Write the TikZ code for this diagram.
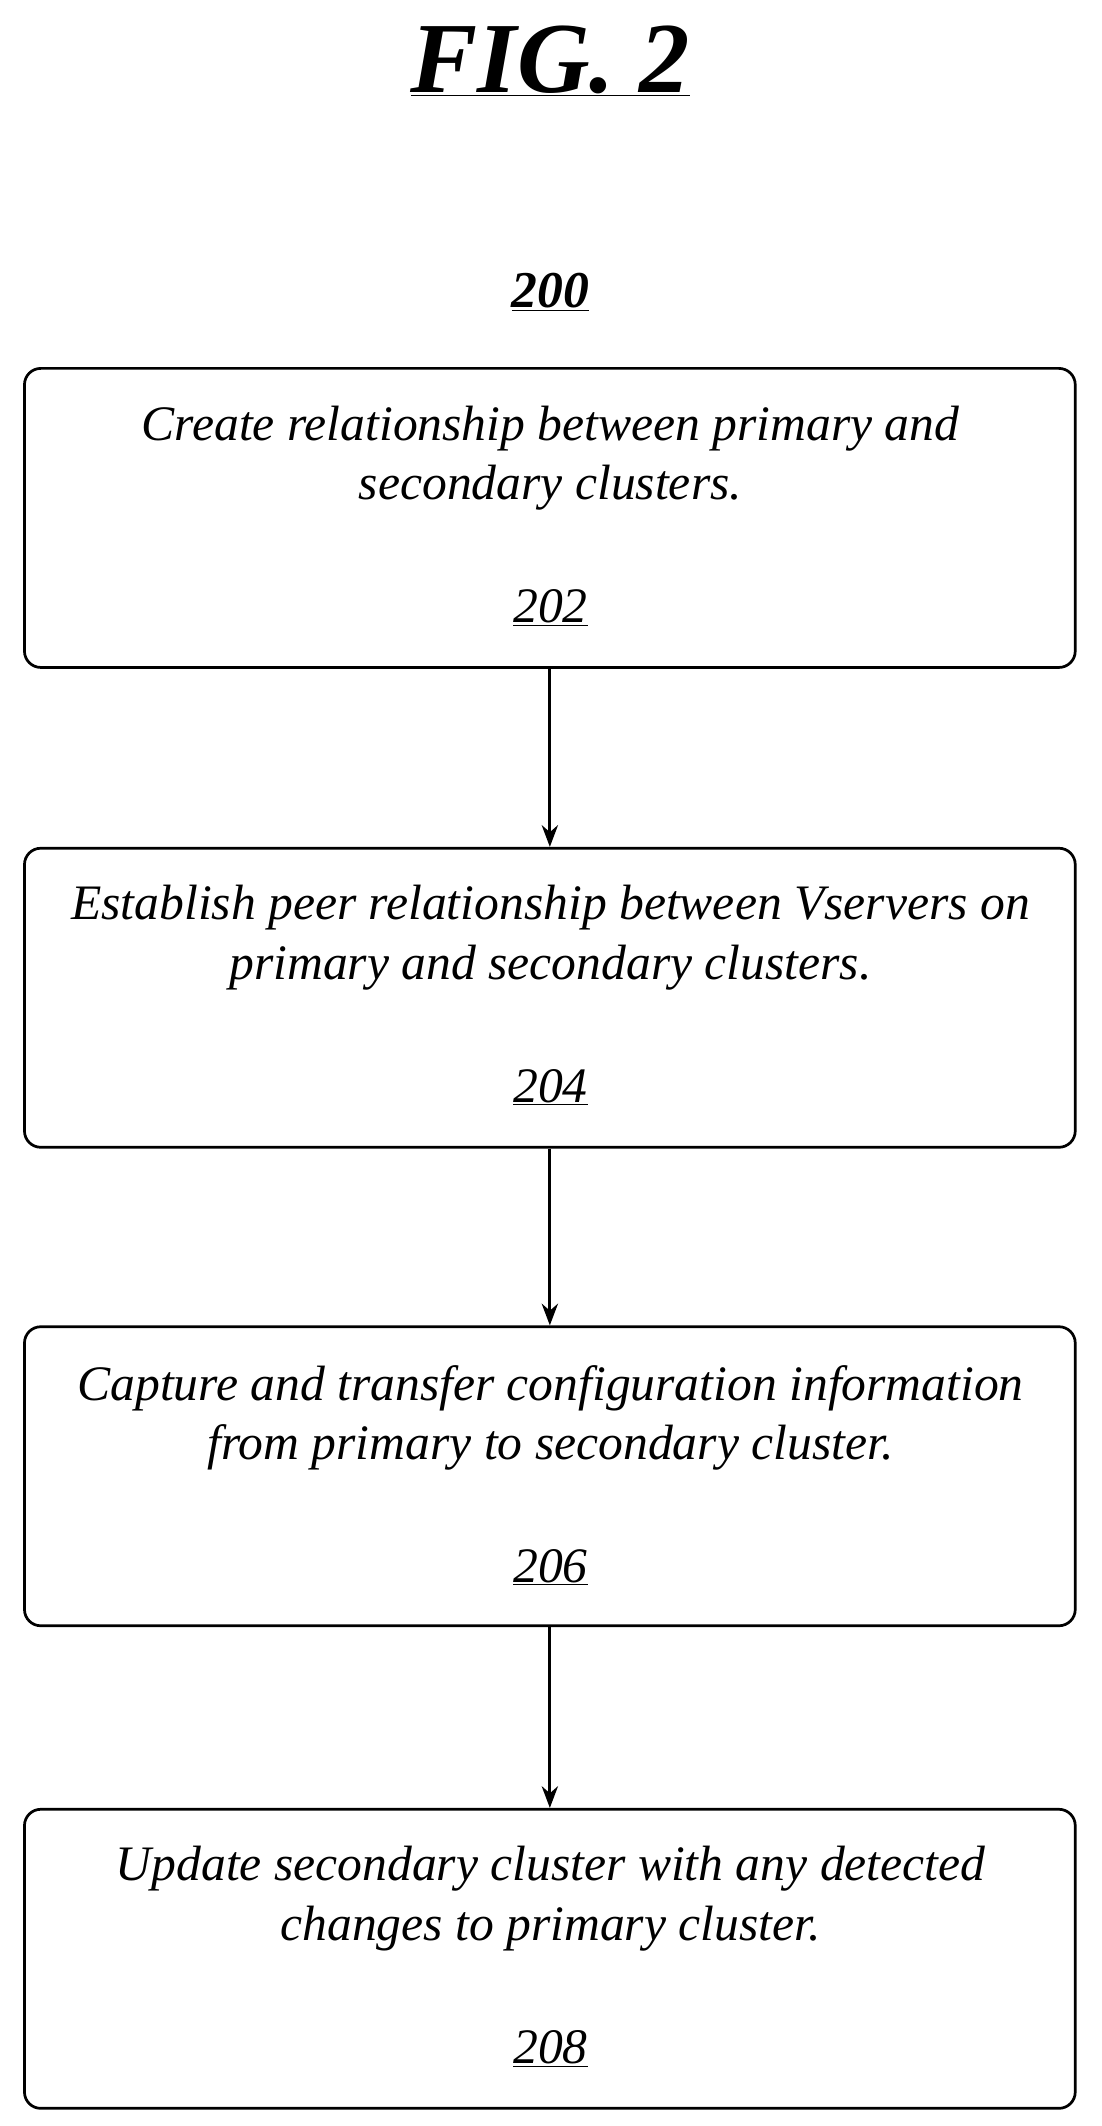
\documentclass[tikz,border=0pt]{standalone}
\usepackage{fontspec}
\setmainfont{Liberation Serif}
\usetikzlibrary{arrows.meta}
\begin{document}
\begin{tikzpicture}[x=1pt,y=-1pt,
 box/.style={draw,line width=2pt,rounded corners=12pt,minimum width=773pt,minimum height=220pt,anchor=north west,inner sep=0pt},
 txt/.style={font=\fontsize{36.5}{44}\selectfont\itshape,align=center},
 arr/.style={-{Stealth[length=16pt,width=12pt]},line width=2pt}]
\useasboundingbox (0,0) rectangle (810,1564);
\node[font=\fontsize{74}{80}\selectfont\bfseries\itshape] (fig) at (405,45) {\underline{FIG. 2}};
\node[font=\fontsize{38}{44}\selectfont\bfseries\itshape] (n200) at (405,215) {\underline{200}};
\node[box] (b1) at (17,270) {};
\node[box] (b2) at (17,623) {};
\node[box] (b3) at (17,975) {};
\node[box] (b4) at (17,1330) {};
\node[txt] (t1) at (405,337) {Create relationship between primary and\\secondary clusters.};
\node[txt] (l1) at (405,447) {\underline{202}};
\node[txt] (t2) at (405,690) {Establish peer relationship between Vservers on\\primary and secondary clusters.};
\node[txt] (l2) at (405,800) {\underline{204}};
\node[txt] (t3) at (405,1043) {Capture and transfer configuration information\\from primary to secondary cluster.};
\node[txt] (l3) at (405,1153) {\underline{206}};
\node[txt] (t4) at (405,1397) {Update secondary cluster with any detected\\changes to primary cluster.};
\node[txt] (l4) at (405,1507) {\underline{208}};
\draw[arr] (b1.south) -- (b2.north);
\draw[arr] (b2.south) -- (b3.north);
\draw[arr] (b3.south) -- (b4.north);
\end{tikzpicture}
\end{document}
